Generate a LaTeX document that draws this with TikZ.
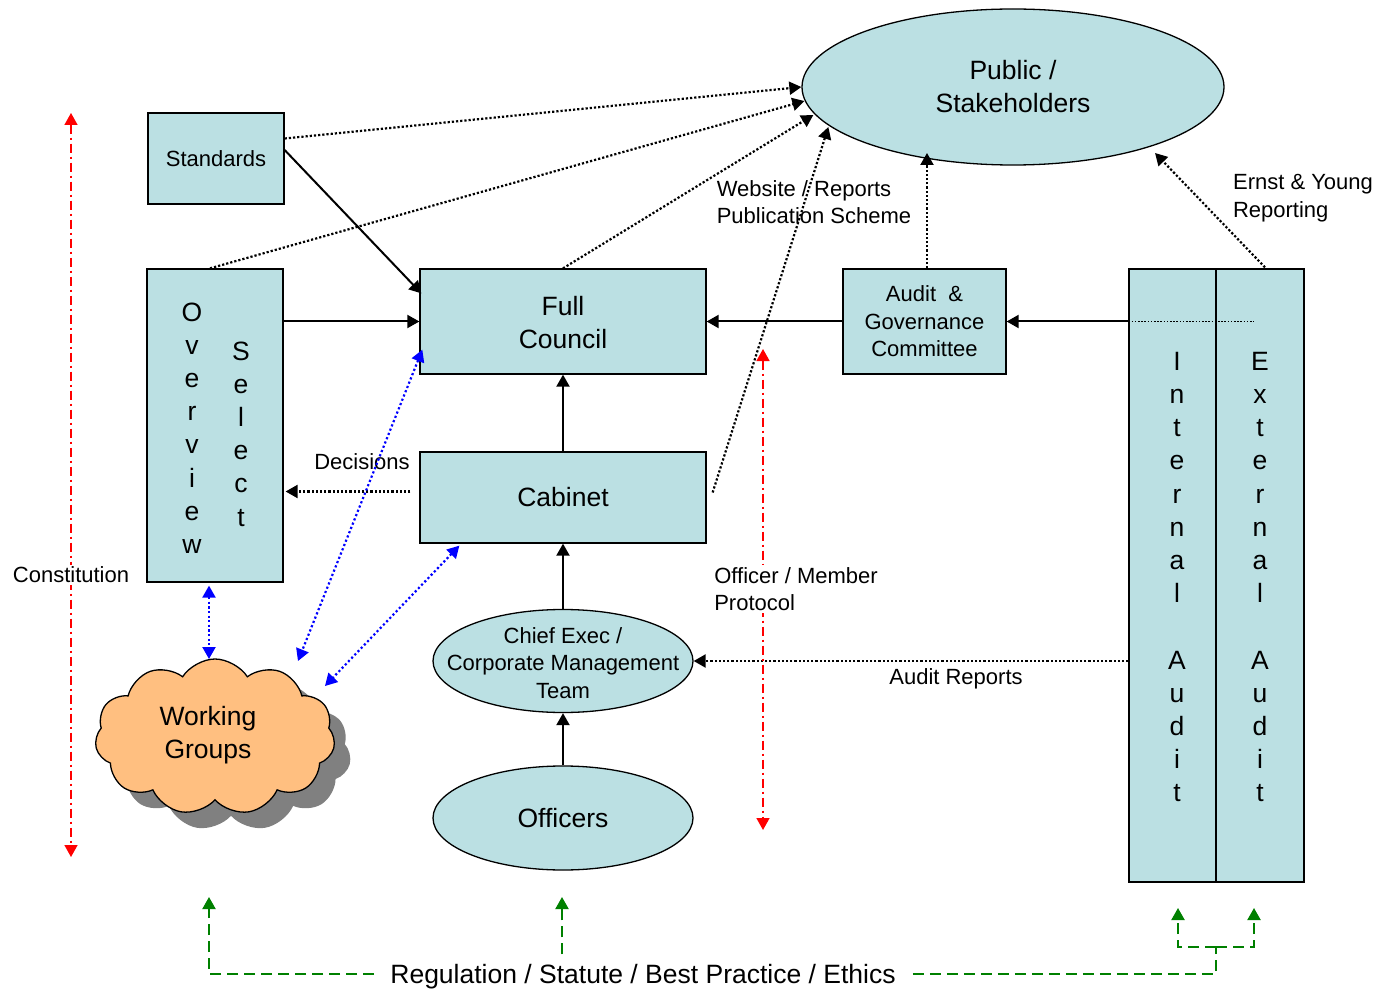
\documentclass[tikz,border=0pt]{standalone}
\usepackage{fontspec}
\setmainfont{Liberation Sans}
\usetikzlibrary{arrows.meta,shapes.geometric,shapes.symbols,calc}
\definecolor{lb}{RGB}{187,224,227}
\definecolor{wgc}{RGB}{255,191,128}
\definecolor{gr}{RGB}{0,128,0}
\begin{document}
\begin{tikzpicture}[x=1pt,y=-1pt,
  box/.style={draw, line width=1.3pt, fill=lb, inner sep=0pt, align=center},
  oval/.style={ellipse, draw, line width=1.3pt, fill=lb, inner sep=0pt, align=center},
  sm/.style={font=\fontsize{22}{27.5}\selectfont},
  bg/.style={font=\fontsize{26.5}{33}\selectfont},
  vt/.style={inner sep=0pt, align=center, font=\fontsize{26.5}{33.2}\selectfont},
  tip/.style={-{Triangle[length=12pt,width=13pt]}},
  solidarr/.style={line width=2pt, tip},
  dotarr/.style={line width=2.2pt, dash pattern=on 2.2pt off 2pt, tip},
  bluearr/.style={blue, line width=2.2pt, dash pattern=on 2.2pt off 2.4pt, {Triangle[length=12pt,width=13pt]}-{Triangle[length=12pt,width=13pt]}},
  redarr/.style={red, line width=1.6pt, dash pattern=on 9pt off 4pt on 2pt off 4pt, {Triangle[length=12pt,width=13pt]}-{Triangle[length=12pt,width=13pt]}},
  grline/.style={gr, line width=2pt, dash pattern=on 11pt off 6pt},
  lbl/.style={inner sep=0pt, align=left, sm}
]
\useasboundingbox (0,0) rectangle (1379,992);

% nodes
\node[oval, bg, minimum width=422pt, minimum height=156pt] (pub) at (1013,87) {Public /\\Stakeholders};
\node[box, sm, minimum width=136pt, minimum height=91pt] (std) at (216,158.5) {Standards};
\node[box, minimum width=136pt, minimum height=313pt] (ovs) at (215,425.5) {};
\node[vt] (ovw) at (192,428) {O\\v\\e\\r\\v\\i\\e\\w};
\node[vt] (sel) at (241,434) {S\\e\\l\\e\\c\\t};
\node[box, minimum width=286pt, minimum height=105pt] (fc) at (563,321.5) {};
\node[inner sep=0pt, align=center, bg] (fct) at (563,322.5) {Full\\Council};
\node[box, bg, minimum width=286pt, minimum height=91pt] (cab) at (563,497.5) {Cabinet};
\node[box, sm, minimum width=163pt, minimum height=105pt] (agc) at (924.5,321.5) {Audit\ \ \&\\Governance\\Committee};
\node[box, minimum width=87pt, minimum height=613pt] (int) at (1172.5,575.5) {};
\node[box, minimum width=88pt, minimum height=613pt] (ext) at (1260,575.5) {};
\node[vt] (intt) at (1177,577) {I\\n\\t\\e\\r\\n\\a\\l\\[33.2pt]A\\u\\d\\i\\t};
\node[vt] (extt) at (1260,577) {E\\x\\t\\e\\r\\n\\a\\l\\[33.2pt]A\\u\\d\\i\\t};
\node[oval, minimum width=260pt, minimum height=103pt] (ceo) at (563,661) {};
\node[inner sep=0pt, align=center, sm] (ceot) at (563,663) {Chief Exec /\\Corporate Management\\Team};
\node[oval, bg, minimum width=260pt, minimum height=104pt] (off) at (563,818) {Officers};

% cloud with shadow
\node[cloud, cloud puffs=11, cloud puff arc=115, fill=black!50, minimum width=240pt, minimum height=156pt, inner sep=0pt] (wgs) at (231,753) {};
\node[cloud, cloud puffs=11, cloud puff arc=115, draw, line width=1.3pt, fill=wgc, minimum width=240pt, minimum height=156pt, inner sep=0pt] (wg) at (215,737) {};
\node[inner sep=0pt, align=center, bg] (wgt) at (208,735) {Working\\Groups};

% labels
\node[lbl] (web) at (814,202) {Website / Reports\\Publication Scheme};
\node[lbl] (ey) at (1303,198) {Ernst \& Young\\Reporting};
\node[lbl] (dec) at (362,462) {Decisions};
\node[lbl] (ar) at (956,679) {Audit Reports};

% solid connectors
\draw[solidarr] ($(std.east)+(0,-8.5)$) -- ($(fc.north west)+(2,25)$);
\draw[solidarr] (fc.west -| ovs.east) -- (fc.west);
\draw[solidarr] (agc.west) -- (fc.east);
\draw[solidarr] (agc.east -| int.west) -- (agc.east);
\draw[solidarr] (cab.north) -- (fc.south);
\draw[solidarr] (ceo.north) -- (cab.south);
\draw[solidarr] (off.north) -- (ceo.south);

% dotted connectors
\draw[dotarr] ($(std.east)+(0,-20)$) -- (pub.west);
\draw[dotarr] ($(ovs.north)+(-5,0)$) -- ($(pub.west)+(3,14)$);
\draw[dotarr] (fc.north) -- ($(pub.west)+(12,28)$);
\draw[dotarr] ($(cab.east)+(6,-5)$) -- ($(pub.west)+(27,40)$);
\draw[dotarr] ($(agc.north)+(2.5,0)$) -- ($(pub.center)+(-86,66)$);
\draw[dotarr] ($(ext.north)+(5,-1)$) -- ($(pub.center)+(142,66)$);
\draw[dotarr] ($(cab.west)+(-9,-6)$) -- ($(cab.west -| ovs.east)+(2,-6)$);
\draw[dotarr] (ceo.east -| int.west) -- (ceo.east);
\draw[line width=1.6pt, dash pattern=on 1.6pt off 1.6pt] (agc.east -| int.west) -- ($(agc.east -| ext.center)+(-6,0)$);

% blue dotted
\draw[bluearr] ($(ovs.south)+(-6,3)$) -- ($(wg.center)+(-6,-78)$);
\draw[bluearr] ($(fc.south west)+(3,-25)$) -- ($(wg.center)+(83,-76)$);
\draw[bluearr] ($(cab.south west)+(40,2)$) -- ($(wg.center)+(110,-51)$);

% red dash-dot
\coordinate (c1) at (71,113);
\coordinate (c2) at (71,857);
\draw[redarr] (c1) -- (c2);
\node[inner sep=2pt, fill=white, sm] (con) at (71,575) {Constitution};
\coordinate (p1) at (763,349);
\coordinate (p2) at (763,830);
\draw[redarr] (p1) -- (p2);
\node[lbl, fill=white, inner sep=2pt] (opm) at (796,589) {Officer / Member\\Protocol};

% green dashed
\node[inner sep=0pt, bg] (reg) at (643,977) {Regulation / Statute / Best Practice / Ethics};
\coordinate (gwg) at (209,897);
\coordinate (goff) at (562,897);
\coordinate (gj) at (1216,947);
\coordinate (gia) at (1178,908);
\coordinate (gea) at (1254,908);
\draw[grline, tip] ($(reg.west)+(-16,-3)$) -| (gwg);
\draw[grline, tip] ($(reg.north -| goff)+(0,-10)$) -- (goff);
\draw[grline] ($(reg.east)+(17,-3)$) -| (gj);
\draw[grline, tip] (gj) -| (gia);
\draw[grline, tip] (gj) -| (gea);
\end{tikzpicture}
\end{document}
